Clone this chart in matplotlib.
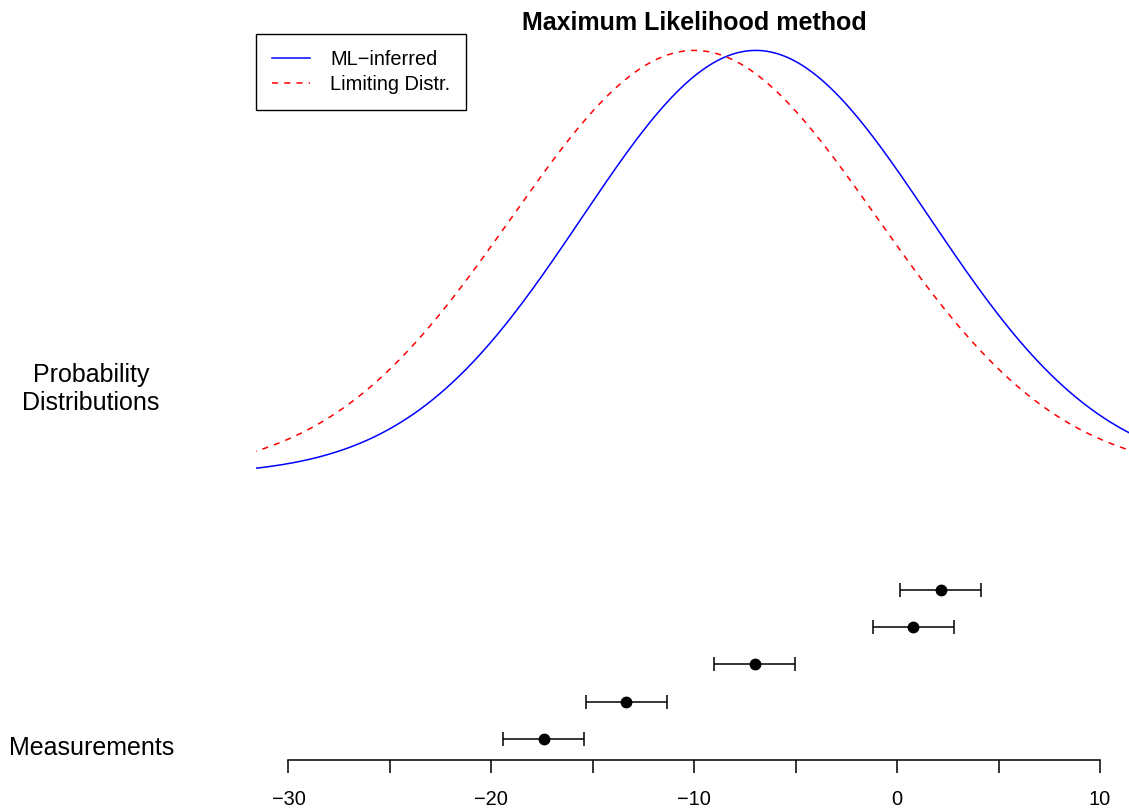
import numpy as np
import matplotlib
matplotlib.use("Agg")
import matplotlib.pyplot as plt

plt.rcParams['font.family'] = ['Liberation Sans', 'DejaVu Sans']

# ---- data ----
measurements = [-17.42, -13.34, -7.03, 0.80, 2.15]   # bottom row to top row
meas_errors = [2.0, 2.0, 2.0, 2.0, 2.0]
meas_rows = [1, 2, 3, 4, 5]

limit_mean = -10.0
limit_sd = 9.0

ml_mean = float(np.mean(measurements))
ml_sd = float(np.std(measurements, ddof=1))

tick_values = list(range(-30, 11, 5))
tick_labels = [(str(v).replace('-', '\u2212') if v % 10 == 0 else '') for v in tick_values]

title = "Maximum Likelihood method"
legend_labels = ["ML\u2212inferred", "Limiting Distr."]

# ---- layout ----
W, H = 1129, 808
fig = plt.figure(figsize=(W / 100, H / 100), dpi=100)
ax = fig.add_axes([256 / W, (H - 760) / H, 876.5 / W, (760 - 33.5) / H])
ax.set_xlim(-31.6, 11.6)
ax.set_ylim(0.427, 19.97)

curve_base = 8.094
curve_top = 19.515

xs = np.linspace(-36, 16, 800)
def shape(x, m, s):
    return np.exp(-0.5 * ((x - m) / s) ** 2)

ax.plot(xs, curve_base + (curve_top - curve_base) * shape(xs, ml_mean, ml_sd),
        color='blue', lw=1.1, label=legend_labels[0])
ax.plot(xs, curve_base + (curve_top - curve_base) * shape(xs, limit_mean, limit_sd),
        color='red', lw=1.1, linestyle=(0, (4, 4)), label=legend_labels[1])

ax.errorbar(measurements, meas_rows, xerr=meas_errors, fmt='o', color='black',
            ms=7.5, capsize=4.8, elinewidth=1.1, capthick=1.1)

for side in ['left', 'right', 'top']:
    ax.spines[side].set_visible(False)
ax.spines['bottom'].set_bounds(-30, 10)
ax.spines['bottom'].set_linewidth(1.1)
ax.set_yticks([])
ax.set_xticks(tick_values)
ax.set_xticklabels(tick_labels)
ax.tick_params(axis='x', length=9.4, width=1.1, pad=12, labelsize=14.4)

leg = ax.legend(loc='upper left', bbox_to_anchor=(0, 1), borderaxespad=0,
                fancybox=False, edgecolor='black', framealpha=1, fontsize=14.4,
                handlelength=1.9, handletextpad=1.0, borderpad=0.8,
                labelspacing=0.3)
leg.get_frame().set_linewidth(1.0)

fig.text(694.25 / W, 1 - 30 / H, title, ha='center', va='baseline',
         fontsize=18, fontweight='bold')
fig.text(91 / W, 1 - 389 / H, "Probability\nDistributions", ha='center',
         va='center', fontsize=18, multialignment='center')
fig.text(92 / W, 1 - 755 / H, "Measurements", ha='center', va='baseline',
         fontsize=18)

fig.savefig("out.png", dpi=100, facecolor='white')
